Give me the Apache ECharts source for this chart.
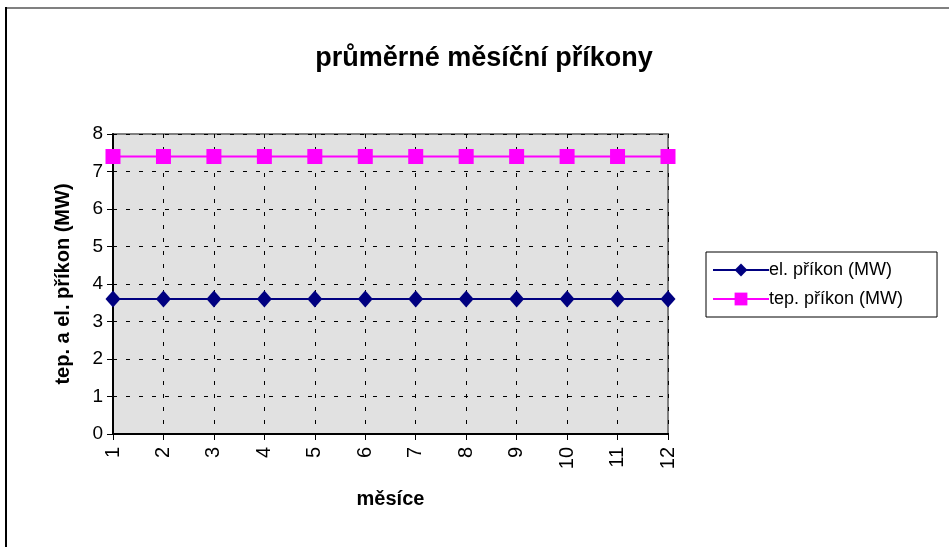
<!DOCTYPE html>
<html>
<head>
<meta charset="utf-8">
<script src="https://cdn.jsdelivr.net/npm/echarts@6/dist/echarts.min.js"></script>
<style>
html,body{margin:0;padding:0;background:#fff;}
#chart{width:949px;height:547px;}
</style>
</head>
<body>
<div id="chart"></div>
<script>
// Months 1..12 and average monthly power draw (MW)
const months = ['1','2','3','4','5','6','7','8','9','10','11','12'];
const elPrikon = [3.6,3.6,3.6,3.6,3.6,3.6,3.6,3.6,3.6,3.6,3.6,3.6];
const tepPrikon = [7.4,7.4,7.4,7.4,7.4,7.4,7.4,7.4,7.4,7.4,7.4,7.4];
const yTicks = [0,1,2,3,4,5,6,7,8];

const FONT = 'Liberation Sans, Arial, sans-serif';
const chart = echarts.init(document.getElementById('chart'), null, {renderer:'canvas'});

const dashed = {show:true, lineStyle:{color:'#000', width:1, type:[4,9]}};

chart.setOption({
  backgroundColor:'#fff',
  animation:false,
  title:{
    text:'průměrné měsíční příkony',
    left:479, top:40, textAlign:'center',
    textStyle:{fontFamily:FONT, fontSize:27, fontWeight:'bold', color:'#000'}
  },
  legend:{
    left:706, top:252,
    orient:'vertical',
    itemWidth:56, itemHeight:16, itemGap:11,
    padding:[9,34,9,6],
    borderColor:'#000', borderWidth:1,
    textStyle:{fontFamily:FONT, fontSize:18, color:'#000', padding:[0,0,0,-5]},
    data:['el. příkon (MW)','tep. příkon (MW)']
  },
  grid:{left:113, right:281, top:134, bottom:113,
        show:true, backgroundColor:'#e1e1e1', borderColor:'#808080', borderWidth:2},
  xAxis:{
    type:'category', data:months, boundaryGap:false,
    name:'měsíce', nameLocation:'middle', nameGap:55,
    nameTextStyle:{fontFamily:FONT, fontSize:20, fontWeight:'bold', color:'#000'},
    axisLine:{lineStyle:{color:'#000', width:2}},
    axisTick:{show:true, inside:false, length:6, alignWithLabel:true, lineStyle:{color:'#000'}},
    axisLabel:{rotate:90, fontFamily:FONT, fontSize:20, color:'#000', margin:13},
    splitLine:dashed
  },
  yAxis:{
    type:'value', min:yTicks[0], max:yTicks[yTicks.length-1], interval:1,
    name:'tep. a el. příkon (MW)', nameLocation:'middle', nameGap:40,
    nameTextStyle:{fontFamily:FONT, fontSize:20, fontWeight:'bold', color:'#000'},
    axisLine:{show:true, lineStyle:{color:'#000', width:2}},
    axisTick:{show:true, length:6, lineStyle:{color:'#000'}},
    axisLabel:{fontFamily:FONT, fontSize:19, color:'#000', margin:10},
    splitLine:dashed
  },
  series:[
    {name:'el. příkon (MW)', type:'line', data:elPrikon,
     symbol:'diamond', symbolSize:[15,17],
     lineStyle:{color:'#000080', width:2}, itemStyle:{color:'#000080'}},
    {name:'tep. příkon (MW)', type:'line', data:tepPrikon,
     symbol:'rect', symbolSize:15,
     lineStyle:{color:'#ff00ff', width:2}, itemStyle:{color:'#ff00ff'}}
  ],
  graphic:[
    {type:'line', shape:{x1:6, y1:8, x2:949, y2:8}, style:{stroke:'#808080', lineWidth:2}},
    {type:'line', shape:{x1:6, y1:7, x2:6, y2:547}, style:{stroke:'#000', lineWidth:2}}
  ]
});
</script>
</body>
</html>
